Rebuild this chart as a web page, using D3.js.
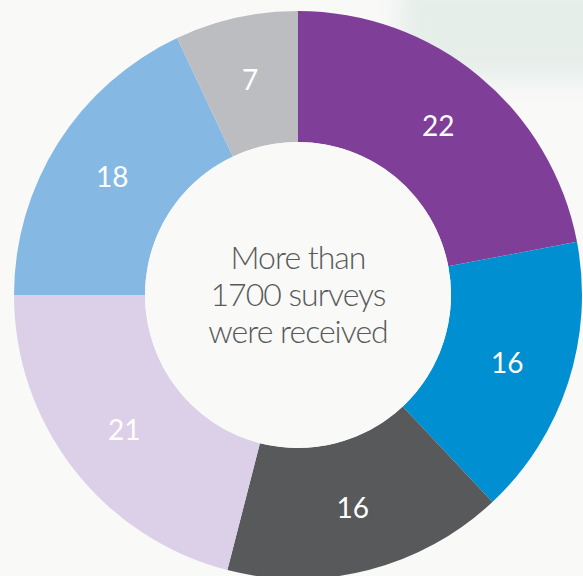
<!DOCTYPE html>
<html><head><meta charset="utf-8">
<script src="https://cdn.jsdelivr.net/npm/d3@7"></script>
<style>body{margin:0;background:#f9f9f8;}svg{display:block;}</style>
</head><body>
<svg id="c" width="583" height="576"></svg>
<script>
const categories = ["A","B","C","D","E","F"];
const values = [22,16,16,21,18,7];
const colors = ["#7f3f98","#008fd1","#58595b","#dccfe8","#85b8e3","#bcbdc0"];
const centerLines = ["More than","1700 surveys","were received"];

const svg = d3.select("#c");
const defs = svg.append("defs");
const f = defs.append("filter").attr("id","blur").attr("x","-50%").attr("y","-50%").attr("width","200%").attr("height","200%");
f.append("feGaussianBlur").attr("stdDeviation",12);
svg.append("rect").attr("width",583).attr("height",576).attr("fill","#f9f9f8");
svg.append("rect").attr("x",400).attr("y",-20).attr("width",220).attr("height",100).attr("fill","#e6eeea").attr("filter","url(#blur)");

const cx=298, cy=295, R=284, r=153;
const g = svg.append("g").attr("transform",`translate(${cx},${cy})`);
const pie = d3.pie().sort(null).value(d=>d)(values);
const arc = d3.arc().innerRadius(r).outerRadius(R);
g.selectAll("path").data(pie).join("path").attr("d",arc).attr("fill",(d,i)=>colors[i]);
const lab = d3.arc().innerRadius(220).outerRadius(220);
g.selectAll("text.v").data(pie).join("text").attr("class","v")
  .attr("transform",d=>`translate(${lab.centroid(d)})`)
  .attr("text-anchor","middle").attr("dy","0.36em")
  .attr("fill","#fff").attr("font-family","Lato, 'Open Sans', sans-serif").attr("font-size",28)
  .text(d=>d.data);
g.append("circle").attr("r",r).attr("fill","#f9f9f8");
g.selectAll("text.c").data(centerLines).join("text").attr("class","c")
  .attr("x",0).attr("y",(d,i)=>(i-1)*37+11)
  .attr("text-anchor","middle").attr("fill","#58595b")
  .attr("font-family","Lato, sans-serif").attr("font-weight",300).attr("font-size",32)
  .attr("letter-spacing","-1")
  .text(d=>d);
</script>
</body></html>
